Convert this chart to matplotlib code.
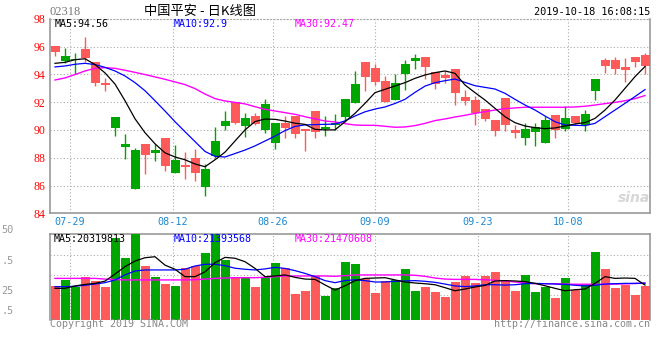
import matplotlib
matplotlib.use('Agg')
import matplotlib.pyplot as plt
import numpy as np

# daily candles, 60 trading days (open, close, high, low)
opens = [95.63, 95.32, 95.10, 95.20, 93.40, 93.20, 90.91, 88.97, 88.56, 88.20,
         88.56, 87.40, 87.84, 87.30, 86.88, 87.19, 89.23, 90.64, 90.52, 90.83,
         90.43, 91.87, 90.47, 90.16, 89.68, 89.95, 89.87, 90.23, 90.52, 92.22,
         93.30, 93.83, 93.45, 92.03, 93.38, 94.74, 95.17, 94.55, 93.30, 93.74,
         92.68, 92.08, 91.19, 90.79, 89.92, 90.35, 89.80, 90.07, 90.23, 90.74,
         89.99, 90.88, 90.50, 91.15, 93.66, 94.60, 94.38, 94.31, 94.89, 94.60]
closes = [96.04, 94.96, 95.00, 95.82, 94.86, 93.40, 90.16, 88.78, 85.75, 88.99,
          88.37, 89.42, 86.93, 87.48, 88.00, 85.87, 88.13, 90.31, 91.98, 90.31,
          91.00, 89.99, 89.08, 90.47, 91.00, 90.09, 91.36, 90.09, 90.33, 90.95,
          91.96, 94.89, 94.46, 93.52, 92.15, 94.02, 94.98, 95.25, 94.17, 93.95,
          94.38, 92.37, 92.15, 91.50, 90.71, 92.30, 89.99, 89.42, 89.85, 89.06,
          91.07, 90.09, 91.00, 90.35, 92.80, 95.03, 95.03, 94.53, 95.25, 95.39]
highs = [96.06, 95.90, 95.50, 96.70, 94.90, 93.70, 90.91, 89.70, 88.70, 89.00,
         88.98, 89.42, 88.90, 88.44, 88.63, 87.55, 90.23, 91.36, 91.98, 91.24,
         91.24, 92.22, 90.47, 91.00, 91.00, 90.09, 91.36, 91.00, 91.15, 92.22,
         94.24, 94.89, 94.74, 93.88, 94.02, 95.03, 95.46, 95.25, 94.20, 94.24,
         94.38, 92.87, 92.44, 91.50, 90.71, 92.30, 90.35, 90.50, 90.50, 91.00,
         91.07, 91.72, 91.00, 91.43, 93.66, 95.17, 95.25, 95.17, 95.25, 95.53]
lows = [95.34, 94.79, 94.05, 94.90, 93.19, 92.82, 89.56, 87.90, 85.75, 86.83,
        87.78, 87.05, 86.93, 86.50, 86.33, 85.27, 88.00, 90.00, 90.45, 89.47,
        90.35, 89.75, 88.65, 89.44, 89.44, 88.51, 89.44, 89.59, 90.00, 90.55,
        91.96, 92.82, 93.26, 92.03, 92.15, 92.87, 94.38, 93.66, 92.94, 93.38,
        91.79, 91.79, 90.35, 90.67, 89.56, 89.92, 89.42, 88.92, 88.84, 89.06,
        89.42, 89.95, 90.35, 89.92, 92.15, 94.10, 94.02, 93.45, 94.53, 94.02]

ma5 = [94.79, 94.86, 95.05, 95.12, 94.70, 94.10, 93.30, 92.10, 90.80, 89.80,
       89.00, 88.35, 88.05, 87.85, 87.55, 87.35, 87.85, 88.40, 89.20, 90.00,
       90.60, 90.78, 90.76, 90.64, 90.48, 90.40, 90.04, 90.00, 90.00, 90.59,
       91.19, 91.91, 92.68, 92.92, 93.16, 93.40, 93.71, 93.95, 94.12, 94.24,
       94.07, 93.23, 92.68, 92.15, 91.55, 90.95, 90.52, 90.28, 90.16, 90.09,
       90.14, 90.28, 90.43, 90.52, 90.83, 91.43, 92.15, 92.99, 93.83, 94.56]
ma10 = [94.53, 94.60, 94.72, 94.79, 94.70, 94.50, 94.24, 93.88, 93.40, 92.82,
        92.10, 91.36, 90.59, 89.87, 89.16, 88.45, 88.10, 88.05, 88.30, 88.55,
        88.85, 89.20, 89.55, 89.95, 90.25, 90.36, 90.38, 90.40, 90.42, 90.65,
        91.00, 91.30, 91.50, 91.65, 91.90, 92.20, 92.70, 93.15, 93.40, 93.54,
        93.66, 93.42, 93.18, 93.06, 92.94, 92.63, 92.20, 91.79, 91.43, 91.00,
        90.59, 90.35, 90.33, 90.31, 90.47, 90.95, 91.43, 91.91, 92.40, 92.90]
ma30 = [93.59, 93.74, 93.98, 94.24, 94.43, 94.48, 94.43, 94.29, 94.14, 93.98,
        93.81, 93.64, 93.45, 93.26, 92.97, 92.58, 92.25, 92.08, 91.98, 91.87,
        91.67, 91.48, 91.36, 91.24, 91.12, 90.95, 90.79, 90.64, 90.57, 90.45,
        90.35, 90.33, 90.33, 90.26, 90.19, 90.21, 90.31, 90.47, 90.67, 90.79,
        90.93, 91.05, 91.19, 91.31, 91.43, 91.53, 91.58, 91.63, 91.63, 91.63,
        91.63, 91.63, 91.65, 91.70, 91.79, 91.89, 91.98, 92.10, 92.25, 92.47]

# volume in millions of shares
volume = [19.6, 23.4, 19.4, 25.0, 22.9, 19.4, 47.5, 36.0, 52.0, 31.6,
          25.0, 21.1, 20.0, 30.2, 31.6, 39.1, 51.0, 35.1, 24.8, 24.8,
          19.2, 25.0, 33.3, 30.2, 15.1, 17.1, 25.8, 14.0, 18.6, 33.9,
          32.7, 24.0, 15.9, 22.5, 23.4, 29.8, 17.1, 19.4, 16.5, 13.6,
          22.3, 25.8, 21.5, 25.8, 28.1, 22.9, 17.1, 26.2, 16.5, 19.2,
          13.0, 24.4, 17.6, 20.9, 39.7, 29.7, 18.6, 20.5, 14.5, 20.0]
vma5 = [18.4, 18.4, 19.8, 20.7, 21.3, 22.6, 26.7, 31.0, 34.3, 36.2,
        36.8, 31.9, 29.5, 25.2, 25.2, 28.0, 33.3, 36.4, 35.9, 33.9,
        30.0, 25.2, 25.6, 26.2, 24.8, 23.8, 23.6, 20.4, 17.4, 19.9,
        22.9, 24.2, 24.4, 24.6, 23.3, 22.1, 21.5, 21.1, 20.5, 18.8,
        17.0, 18.0, 19.2, 20.1, 22.7, 22.9, 22.7, 22.3, 21.3, 19.9,
        18.4, 17.0, 17.6, 18.0, 21.3, 25.2, 24.2, 24.4, 24.2, 20.3]
vma10 = [19.4, 19.4, 19.6, 20.2, 20.9, 21.7, 23.3, 26.2, 28.5, 29.1,
         29.1, 29.1, 29.1, 29.5, 31.4, 32.4, 32.4, 31.6, 30.1, 29.5,
         29.1, 29.7, 30.6, 30.0, 28.7, 27.1, 25.2, 22.9, 21.7, 22.9,
         23.4, 22.9, 22.1, 22.1, 22.5, 22.7, 22.9, 22.5, 21.9, 20.9,
         19.8, 19.4, 19.8, 20.5, 20.5, 20.3, 20.5, 21.1, 21.3, 21.1,
         20.9, 20.7, 20.2, 19.8, 20.2, 20.9, 21.1, 21.3, 21.3, 21.4]
vma30 = [24.2, 24.2, 24.2, 24.2, 24.2, 23.8, 23.5, 23.3, 23.3, 23.3,
         23.3, 23.3, 23.3, 23.3, 23.4, 23.8, 24.2, 24.4, 24.6, 24.6,
         24.6, 24.8, 25.2, 25.6, 25.6, 25.6, 25.6, 25.6, 25.4, 25.8,
         26.2, 26.2, 26.2, 26.2, 26.2, 26.2, 26.0, 25.4, 24.4, 23.8,
         23.6, 23.6, 23.6, 23.4, 23.1, 22.7, 22.1, 21.5, 21.1, 21.1,
         21.1, 20.9, 20.8, 20.8, 20.8, 20.8, 20.9, 21.0, 21.2, 21.5]

date_labels = ['07-29', '08-12', '08-26', '09-09', '09-23', '10-08']
date_pos = [1.5, 11.8, 21.8, 32.0, 42.3, 51.3]
price_ticks = [98, 96, 94, 92, 90, 88, 86, 84]
# the volume scale labels are cut by the image edge in the original,
# only their last two characters show
vol_tick_labels = ['50', '.5', '25', '.5']

RED = '#ff5a5a'
GREEN = '#00a600'
GRID = '#aaaaaa'
SPINE = '#999999'
MONO = 'DejaVu Sans Mono'

plt.rcParams['font.family'] = ['Noto Sans CJK SC', 'DejaVu Sans']

fig = plt.figure(figsize=(6.6, 3.6), dpi=100)
W, H = 660.0, 360.0


def fx(x):
    return x / W


def fy(y):
    return 1 - y / H


ax = fig.add_axes([fx(50), fy(213.3), 600 / W, 194.6 / H])
axv = fig.add_axes([fx(50), fy(320), 600 / W, 86 / H])

n = len(opens)
idx = np.arange(n)
up = np.array(closes) >= np.array(opens)
colors = [RED if u else GREEN for u in up]

# candles
ax.vlines(idx, lows, highs, colors=colors, linewidth=1.0, zorder=3)
body_bottom = np.minimum(opens, closes)
body_height = np.maximum(np.abs(np.array(closes) - np.array(opens)), 0.06)
ax.bar(idx, body_height, bottom=body_bottom, width=0.9, color=colors,
       linewidth=0, zorder=4)
ax.plot(idx, ma30, color='#ff00ff', lw=1.0, zorder=5)
ax.plot(idx, ma10, color='#0000ff', lw=0.9, zorder=5)
ax.plot(idx, ma5, color='black', lw=0.9, zorder=5)

ax.set_xlim(-0.5, n - 0.5)
ax.set_ylim(84, 98)
ax.set_yticks(price_ticks)
ax.set_yticklabels([str(t) for t in price_ticks], color='red',
                   family='Liberation Serif', fontsize=8.5)
ax.set_xticks(date_pos)
ax.set_xticklabels(date_labels, color='#1e88d0', family=MONO, fontsize=7.3)
ax.tick_params(length=0, pad=3)
ax.grid(True, color=GRID, linestyle=(0, (1, 2)), linewidth=0.8)
for s in ['left', 'bottom', 'right']:
    ax.spines[s].set_color(SPINE)
    ax.spines[s].set_linewidth(1.2)
ax.spines['top'].set_color(GRID)
ax.spines['top'].set_linestyle((0, (1, 2)))

# volume
axv.bar(idx, volume, width=0.9, color=colors, linewidth=0, zorder=3)
axv.plot(idx, vma30, color='#ff00ff', lw=1.0, zorder=4)
axv.plot(idx, vma10, color='#0000ff', lw=0.9, zorder=4)
axv.plot(idx, vma5, color='black', lw=0.9, zorder=4)
axv.set_xlim(-0.5, n - 0.5)
axv.set_ylim(0, 50)
axv.set_xticks(date_pos)
axv.set_yticks([14.5, 26.2, 37.8])
axv.set_xticklabels([])
axv.set_yticklabels([])
axv.tick_params(length=0)
axv.grid(True, color=GRID, linestyle=(0, (1, 2)), linewidth=0.8)
axv.set_axisbelow(True)
for s in ['left', 'top', 'right']:
    axv.spines[s].set_color(SPINE)
    axv.spines[s].set_linewidth(1.2)
axv.spines['bottom'].set_visible(False)

# texts
fig.text(fx(49), fy(12), '02318', color='#777777', family='Liberation Serif',
         fontsize=9, va='center', ha='left')
fig.text(fx(200), fy(11), '中国平安 - 日K线图', color='black', fontsize=9.5,
         va='center', ha='center')
fig.text(fx(650), fy(12), '2019-10-18 16:08:15', color='black', family=MONO,
         fontsize=7.4, va='center', ha='right')

fig.text(fx(55), fy(24), 'MA5:94.56', color='black', family=MONO, fontsize=7.2, va='center')
fig.text(fx(174), fy(24), 'MA10:92.9', color='#0000ff', family=MONO, fontsize=7.2, va='center')
fig.text(fx(295), fy(24), 'MA30:92.47', color='#ff00ff', family=MONO, fontsize=7.2, va='center')

fig.text(fx(54), fy(239.5), 'MA5:20319813', color='black', family=MONO, fontsize=7.2,
         va='center', zorder=10)
fig.text(fx(174), fy(239.5), 'MA10:21393568', color='#0000ff', family=MONO, fontsize=7.2,
         va='center', zorder=10)
fig.text(fx(295), fy(239.5), 'MA30:21470608', color='#ff00ff', family=MONO, fontsize=7.2,
         va='center', zorder=10)

fig.text(fx(50), fy(324), 'Copyright 2019 SINA.COM', color='#888888', family=MONO,
         fontsize=7.2, va='center')
fig.text(fx(650), fy(324), 'http://finance.sina.com.cn', color='#888888', family=MONO,
         fontsize=7.2, va='center', ha='right')

for lab, yy in zip(vol_tick_labels, [230, 261, 291, 311]):
    fig.text(fx(1), fy(yy), lab, color='#999999', family=MONO, fontsize=7.4,
             va='center', ha='left')

fig.text(fx(634), fy(198), 'sina', color='#d6d6d6', fontsize=10, style='italic',
         fontweight='bold', va='center', ha='center', family='DejaVu Sans')

fig.savefig('out.png', dpi=100)
